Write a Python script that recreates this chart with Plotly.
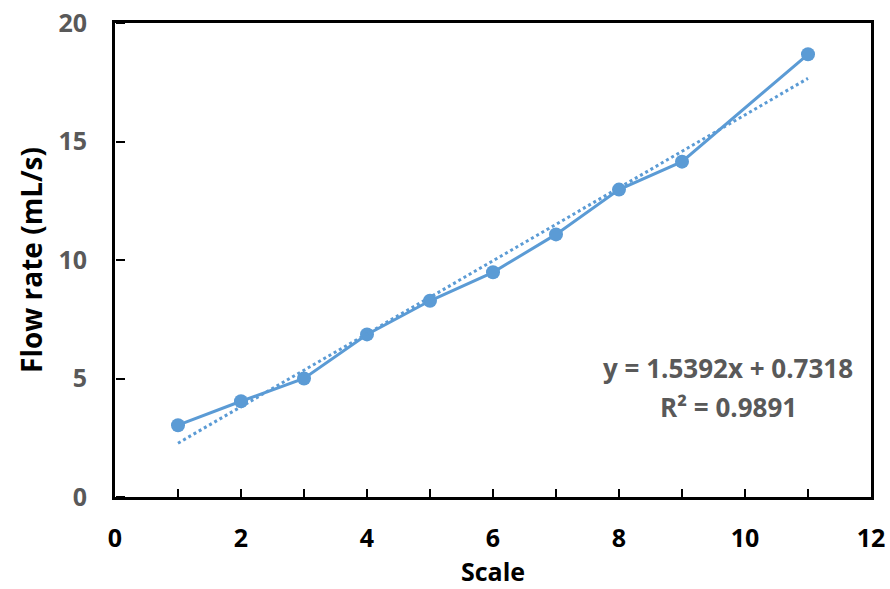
import plotly.graph_objects as go

scale = [1, 2, 3, 4, 5, 6, 7, 8, 9, 11]
flow_rate = [3.03, 4.04, 5.0, 6.86, 8.28, 9.48, 11.08, 12.97, 14.15, 18.68]
trend_slope = 1.5392
trend_intercept = 0.7318
r_squared = 0.9891
x_ticks = [0, 2, 4, 6, 8, 10, 12]
y_ticks = [0, 5, 10, 15, 20]

blue = "#5B9BD5"
gray = "#595959"
font = "Open Sans"

trend_x = [min(scale), max(scale)]
trend_y = [trend_slope * v + trend_intercept for v in trend_x]

fig = go.Figure()
fig.add_trace(go.Scatter(x=trend_x, y=trend_y, mode="lines", xaxis="x2", yaxis="y2",
                         line=dict(color=blue, width=3, dash="dot"), showlegend=False))
fig.add_trace(go.Scatter(x=scale, y=flow_rate, mode="lines+markers",
                         line=dict(color=blue, width=3),
                         marker=dict(color=blue, size=14), showlegend=False))

ann_font = dict(family=font, size=26, color=gray, weight="bold")
fig.add_annotation(x=0.8115, y=0.272, xref="paper", yref="paper", xanchor="center", yanchor="middle",
                   text=f"y = {trend_slope}x + {trend_intercept}", showarrow=False, font=ann_font)
fig.add_annotation(x=0.8115, y=0.19, xref="paper", yref="paper", xanchor="center", yanchor="middle",
                   text=f"R² = {r_squared}", showarrow=False, font=ann_font)

fig.update_layout(
    width=890, height=589,
    margin=dict(l=115, r=19, t=23, b=92),
    paper_bgcolor="white", plot_bgcolor="white",
    font=dict(family=font),
    xaxis=dict(range=[0, 12], tickvals=x_ticks, ticktext=[str(v) for v in x_ticks],
               automargin=False,
               showgrid=False, zeroline=False, showline=True, linecolor="black", linewidth=3,
               mirror=True, ticks="",
               tickfont=dict(family=font, size=25, color="black", weight="bold"),
               ticklabelstandoff=17,
               title=dict(text="Scale", standoff=8,
                          font=dict(family=font, size=25, color="black", weight="bold"))),
    yaxis=dict(range=[0, 20], tickvals=y_ticks, ticktext=[str(v) for v in y_ticks],
               automargin=False,
               showgrid=False, zeroline=False, showline=True, linecolor="black", linewidth=3,
               mirror=True, ticks="",
               tickfont=dict(family=font, size=25, color=gray, weight="bold"),
               ticklabelstandoff=20,
               title=dict(text="Flow rate (mL/s)", standoff=8,
                          font=dict(family=font, size=28, color="black", weight="bold"))),
    xaxis2=dict(overlaying="x", range=[0, 12], automargin=False, showgrid=False, zeroline=False,
                showline=False, showticklabels=False, side="bottom",
                tickvals=list(range(0, 13)), ticks="inside", ticklen=8, tickwidth=2, tickcolor="black"),
    yaxis2=dict(overlaying="y", range=[0, 20], automargin=False, showgrid=False, zeroline=False,
                showline=False, showticklabels=False, side="right", anchor="free", position=0,
                tickvals=y_ticks, ticks="outside", ticklen=9, tickwidth=2, tickcolor="black"),
)

fig.write_html("out.html")
